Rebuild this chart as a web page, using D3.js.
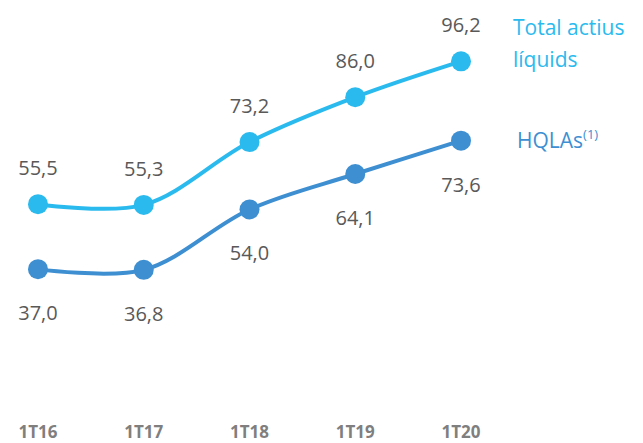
<!DOCTYPE html>
<html><head><meta charset="utf-8">
<script src="https://cdn.jsdelivr.net/npm/d3@7"></script>
<style>body{margin:0;background:#fff}svg{display:block}</style>
</head><body>
<svg id="c" width="643" height="443"></svg>
<script>
const categories = ["1T16","1T17","1T18","1T19","1T20"];
const totalActius = [55.5,55.3,73.2,86.0,96.2];
const hqlas = [37.0,36.8,54.0,64.1,73.6];
const totalLabels = ["55,5","55,3","73,2","86,0","96,2"];
const hqlaLabels = ["37,0","36,8","54,0","64,1","73,6"];

const svg = d3.select("#c");
const font = "'Open Sans', 'Noto Sans', sans-serif";
const x = d3.scalePoint().domain(categories).range([38,461]);
const y = d3.scaleLinear().domain([0,100]).range([399,48]);
const colTotal = "#2bbaee", colHq = "#3d8fd2";

const line = d3.line().x((d,i)=>x(categories[i])).y(d=>y(d)).curve(d3.curveCatmullRom.alpha(0.5));

function series(data, col, labels, dy){
  svg.append("path").datum(data).attr("d", line).attr("fill","none").attr("stroke",col).attr("stroke-width",4);
  svg.selectAll(null).data(data).enter().append("circle")
    .attr("cx",(d,i)=>x(categories[i])).attr("cy",d=>y(d)).attr("r",10).attr("fill",col);
  svg.selectAll(null).data(data).enter().append("text")
    .attr("x",(d,i)=>x(categories[i])).attr("y",d=>y(d)+dy)
    .attr("text-anchor","middle").attr("font-family",font).attr("font-size",20)
    .attr("fill","#595959").text((d,i)=>labels[i]);
}
series(totalActius, colTotal, totalLabels, -29);
series(hqlas, colHq, hqlaLabels, 51);

const xa = svg.append("g");
xa.selectAll("text").data(categories).enter().append("text")
  .attr("x",d=>x(d)).attr("y",438).attr("text-anchor","middle")
  .attr("font-family",font).attr("font-weight","bold").attr("font-size",17)
  .attr("fill","#7f7f7f").text(d=>d);

const lg = svg.append("text").attr("font-family",font).attr("font-size",21).attr("fill",colTotal);
lg.append("tspan").attr("x",513).attr("y",35).text("Total actius");
lg.append("tspan").attr("x",513).attr("y",67).text("líquids");

const lh = svg.append("text").attr("x",517).attr("y",148).attr("font-family",font).attr("font-size",21).attr("fill",colHq);
lh.append("tspan").text("HQLAs");
lh.append("tspan").attr("font-size",13).attr("dy",-9).text("(1)");
</script>
</body></html>
